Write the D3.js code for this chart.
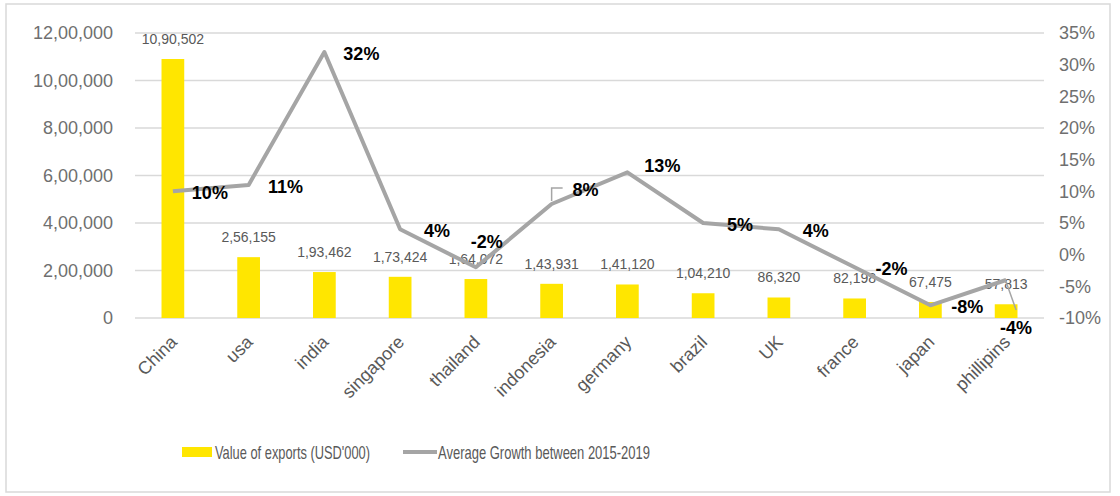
<!DOCTYPE html>
<html>
<head>
<meta charset="utf-8">
<script src="https://cdn.jsdelivr.net/npm/d3@7"></script>
<style>
  body { margin: 0; background: #fff; }
  text { font-family: "Liberation Sans", Arial, sans-serif; }
</style>
</head>
<body>
<svg id="chart" width="1120" height="496"></svg>
<script>
var countries = ['China', 'usa', 'india', 'singapore', 'thailand', 'indonesia', 'germany', 'brazil', 'UK', 'france', 'japan', 'phillipins'];
var exportValues = [1090502, 256155, 193462, 173424, 164072, 143931, 141120, 104210, 86320, 82198, 67475, 57813];
var growth = [0.10, 0.11, 0.32, 0.04, -0.02, 0.08, 0.13, 0.05, 0.04, -0.02, -0.08, -0.04];
var leftTicks = [0, 200000, 400000, 600000, 800000, 1000000, 1200000];
var rightTicks = [-0.10, -0.05, 0, 0.05, 0.10, 0.15, 0.20, 0.25, 0.30, 0.35];
var barName = "Value of exports (USD'000)";
var lineName = 'Average Growth between 2015-2019';

var margin = { top: 33, left: 135, right: 76, bottom: 178 };
var width = 1120, height = 496;
var plotBottom = height - margin.bottom;
var plotRight = width - margin.right;

// lakh style grouping: 12,00,000
var indianFormat = function(n) {
    var s = String(Math.round(n));
    if (s.length <= 3) { return s; }
    var last = s.slice(-3);
    var rest = s.slice(0, -3);
    rest = rest.replace(/\B(?=(\d{2})+(?!\d))/g, ',');
    return rest + ',' + last;
};
var pct = function(v) { return Math.round(v * 100) + '%'; };

var svg = d3.select('#chart');

svg.append('rect')
    .attr('x', 6).attr('y', 4)
    .attr('width', 1104).attr('height', 488)
    .style('fill', '#fff')
    .style('stroke', '#d9d9d9')
    .style('stroke-width', 1.5);

var x = d3.scaleBand()
    .domain(countries)
    .range([margin.left, plotRight])
    .paddingInner(0.7)
    .paddingOuter(0.35);
var yLeft = d3.scaleLinear().domain([0, 1200000]).range([plotBottom, margin.top]);
var yRight = d3.scaleLinear().domain([-0.10, 0.35]).range([plotBottom, margin.top]);
var cx = function(d) { return x(d) + x.bandwidth() / 2; };

// grid
svg.append('g').selectAll('line')
    .data(leftTicks).enter().append('line')
    .attr('x1', margin.left).attr('x2', plotRight)
    .attr('y1', function(d) { return yLeft(d); })
    .attr('y2', function(d) { return yLeft(d); })
    .style('stroke', '#d9d9d9')
    .style('stroke-width', 1.5);

var leftAxis = svg.append('g')
    .attr('transform', 'translate(' + (margin.left - 19) + ',0)')
    .call(d3.axisLeft(yLeft).tickValues(leftTicks).tickFormat(indianFormat).tickSize(0));
var rightAxis = svg.append('g')
    .attr('transform', 'translate(' + (plotRight + 12) + ',0)')
    .call(d3.axisRight(yRight).tickValues(rightTicks).tickFormat(pct).tickSize(0));
[leftAxis, rightAxis].forEach(function(a) {
    a.select('.domain').remove();
    a.selectAll('text')
        .style('font-size', '18px')
        .style('fill', '#6f6f6f');
});

// bars
svg.append('g').selectAll('rect')
    .data(countries).enter().append('rect')
    .attr('x', function(d) { return x(d); })
    .attr('width', x.bandwidth())
    .attr('y', function(d, i) { return yLeft(exportValues[i]); })
    .attr('height', function(d, i) { return plotBottom - yLeft(exportValues[i]); })
    .style('fill', '#ffe600');

svg.append('g').selectAll('text')
    .data(countries).enter().append('text')
    .attr('x', cx)
    .attr('y', function(d, i) { return yLeft(exportValues[i]) - 15; })
    .attr('text-anchor', 'middle')
    .style('font-size', '14px')
    .style('fill', '#595959')
    .text(function(d, i) { return indianFormat(exportValues[i]); });

// growth line
var line = d3.line()
    .x(function(d, i) { return cx(countries[i]); })
    .y(function(d) { return yRight(d); });
svg.append('path')
    .datum(growth)
    .attr('d', line)
    .style('fill', 'none')
    .style('stroke', '#a5a5a5')
    .style('stroke-width', 4)
    .style('stroke-linejoin', 'round');

// label placement: default to the right of the point, a few moved by hand
var nudge = { thailand: [11, -25], indonesia: [34, -14], germany: [35, -6], phillipins: [10, 48] };
var labelPos = function(d, i) {
    var o = nudge[d] || [37, 2];
    return [cx(d) + o[0], yRight(growth[i]) + o[1]];
};

var leaders = svg.append('g')
    .style('fill', 'none')
    .style('stroke', '#a5a5a5')
    .style('stroke-width', 1.5);
var ii = countries.indexOf('indonesia');
leaders.append('path')
    .attr('d', 'M' + cx('indonesia') + ',' + (yRight(growth[ii]) - 3) +
        'V' + (labelPos('indonesia', ii)[1] - 2) + 'h11');
var pi = countries.indexOf('phillipins');
leaders.append('path')
    .attr('d', 'M' + cx('phillipins') + ',' + (yRight(growth[pi]) + 2) +
        'L' + (labelPos('phillipins', pi)[0]) + ',' + (labelPos('phillipins', pi)[1] - 18));

svg.append('g').selectAll('text')
    .data(countries).enter().append('text')
    .attr('x', function(d, i) { return labelPos(d, i)[0]; })
    .attr('y', function(d, i) { return labelPos(d, i)[1]; })
    .attr('text-anchor', 'middle')
    .attr('dominant-baseline', 'central')
    .style('font-size', '18px')
    .style('font-weight', 'bold')
    .style('fill', '#000')
    .text(function(d, i) { return pct(growth[i]); });

// category labels
svg.append('g').selectAll('text')
    .data(countries).enter().append('text')
    .attr('transform', function(d) { return 'translate(' + (cx(d) + 1) + ',' + (plotBottom + 21) + ') rotate(-45)'; })
    .attr('text-anchor', 'end')
    .attr('dominant-baseline', 'central')
    .style('font-size', '18px')
    .style('fill', '#595959')
    .text(function(d) { return d; });

// legend
var legend = svg.append('g').attr('transform', 'translate(182,452)');
legend.append('rect')
    .attr('x', 0).attr('y', -5)
    .attr('width', 30).attr('height', 10)
    .style('fill', '#ffe600');
legend.append('text')
    .attr('x', 33).attr('y', 0)
    .attr('dominant-baseline', 'central')
    .attr('textLength', 155)
    .attr('lengthAdjust', 'spacingAndGlyphs')
    .style('font-size', '19px')
    .style('fill', '#595959')
    .text(barName);
legend.append('line')
    .attr('x1', 221).attr('x2', 255)
    .attr('y1', 0).attr('y2', 0)
    .style('stroke', '#a5a5a5')
    .style('stroke-width', 4);
legend.append('text')
    .attr('x', 256).attr('y', 0)
    .attr('dominant-baseline', 'central')
    .attr('textLength', 212)
    .attr('lengthAdjust', 'spacingAndGlyphs')
    .style('font-size', '19px')
    .style('fill', '#595959')
    .text(lineName);
</script>
</body>
</html>
